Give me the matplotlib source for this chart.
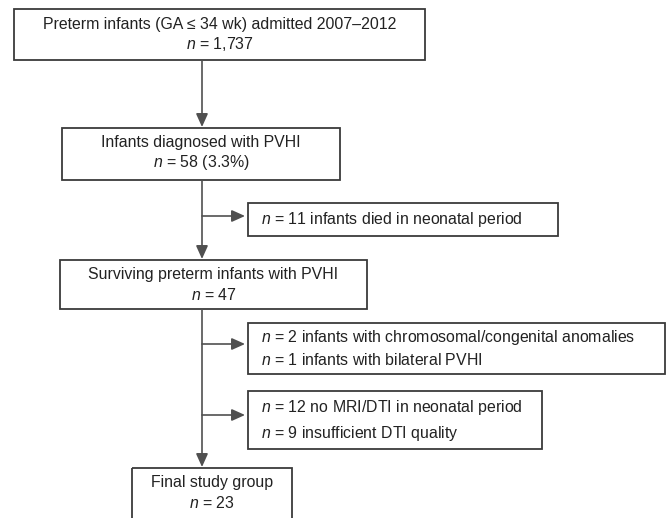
import matplotlib
matplotlib.use("Agg")
import matplotlib.pyplot as plt
from matplotlib.patches import Rectangle

plt.rcParams["font.family"] = ["Liberation Sans", "DejaVu Sans"]
plt.rcParams["mathtext.fontset"] = "custom"
plt.rcParams["mathtext.rm"] = "Liberation Sans"
plt.rcParams["mathtext.it"] = "Liberation Sans:italic"

# box texts (main column)
main_titles = ["Preterm infants (GA \u2264 34 wk) admitted 2007\u20132012",
               "Infants diagnosed with PVHI",
               "Surviving preterm infants with PVHI",
               "Final study group"]
main_counts = ["1,737", "58 (3.3%)", "47", "23"]

# exclusion boxes (side)
side_lines = [["11 infants died in neonatal period"],
              ["2 infants with chromosomal/congenital anomalies",
               "1 infants with bilateral PVHI"],
              ["12 no MRI/DTI in neonatal period",
               "9 insufficient DTI quality"]]

# layout in pixels (x0, y0, x1, y1), y downwards
main_boxes = [(14, 9, 425, 60), (62, 128, 340, 180),
              (60, 260, 367, 309), (132, 468, 292, 530)]
side_boxes = [(248, 203, 558, 236), (248, 323, 665, 374), (248, 391, 542, 449)]
side_arrow_y = [216, 344, 415]
spine_x = 202

edge = "#3a3a3a"
line = "#505050"
fs = 11.4

fig = plt.figure(figsize=(6.7, 5.18), dpi=100)
ax = fig.add_axes([0, 0, 1, 1])
ax.set_xlim(0, 670)
ax.set_ylim(518, 0)
ax.axis("off")

for (x0, y0, x1, y1), title, cnt in zip(main_boxes, main_titles, main_counts):
    ax.add_patch(Rectangle((x0, y0), x1 - x0, y1 - y0, fill=False,
                           edgecolor=edge, lw=1.3))
    cx = (x0 + x1) / 2
    ax.text(cx, y0 + 15, title, ha="center", va="center", fontsize=fs, color="#222222")
    ax.text(cx, y0 + 35, "$n$ = " + cnt, ha="center", va="center", fontsize=fs, color="#222222")

for (x0, y0, x1, y1), lines in zip(side_boxes, side_lines):
    ax.add_patch(Rectangle((x0, y0), x1 - x0, y1 - y0, fill=False,
                           edgecolor=edge, lw=1.3))
    h = y1 - y0
    if len(lines) == 1:
        ys = [y0 + h / 2]
    else:
        ys = [y0 + h * 0.29, y0 + h * 0.73]
    for yy, t in zip(ys, lines):
        ax.text(x0 + 13, yy, "$n$ = " + t, ha="left", va="center", fontsize=fs, color="#222222")

arrow = dict(arrowstyle="-|>,head_length=0.8,head_width=0.36", color=line, lw=1.2,
             mutation_scale=10, shrinkA=0, shrinkB=0)

# spine arrows between main boxes
for (a, b) in zip(main_boxes[:-1], main_boxes[1:]):
    ax.annotate("", xy=(spine_x, b[1] - 1), xytext=(spine_x, a[3]), arrowprops=arrow)

# branch arrows to exclusion boxes
for (x0, y0, x1, y1), ay in zip(side_boxes, side_arrow_y):
    ax.annotate("", xy=(x0 - 3, ay), xytext=(spine_x, ay), arrowprops=arrow)

fig.savefig("out.png", dpi=100)
